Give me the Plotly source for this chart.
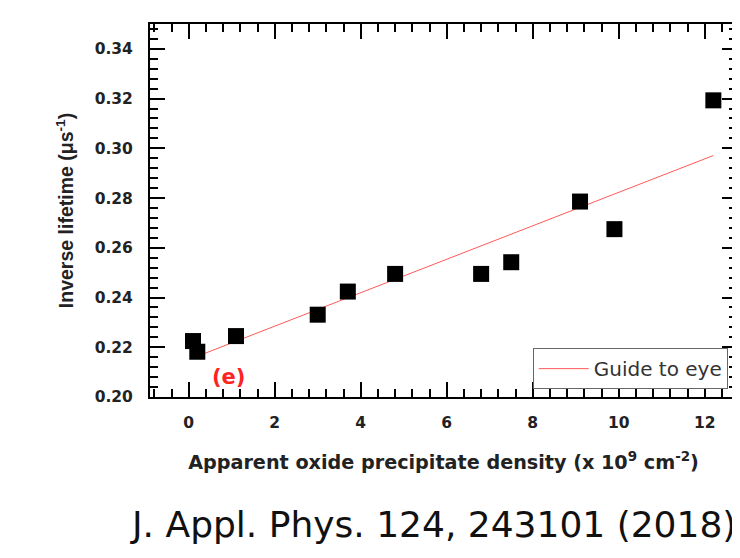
import plotly.graph_objects as go

# Data
density = [0.1, 0.2, 1.1, 3.0, 3.7, 4.8, 6.8, 7.5, 9.1, 9.9, 12.2]
inv_lifetime = [0.2225, 0.2182, 0.2245, 0.2331, 0.2424, 0.2495, 0.2495, 0.2542, 0.2786, 0.2675, 0.3193]

guide_x = [0.1, 12.2]
guide_y = [0.2157, 0.2971]

x_ticks = [0, 2, 4, 6, 8, 10, 12]
y_ticks = [0.20, 0.22, 0.24, 0.26, 0.28, 0.30, 0.32, 0.34]
y_tick_text = ["0.20", "0.22", "0.24", "0.26", "0.28", "0.30", "0.32", "0.34"]

BOLD = "DejaVu Sans"

fig = go.Figure()
fig.add_trace(go.Scatter(
    x=guide_x, y=guide_y, mode="lines",
    line=dict(color="#ff5a5a", width=1),
    name="Guide to eye", showlegend=True,
))
fig.add_trace(go.Scatter(
    x=density, y=inv_lifetime, mode="markers",
    marker=dict(symbol="square", size=16, color="black", line=dict(width=0)),
    showlegend=False,
))

axis_common = dict(
    showline=True, linecolor="black", linewidth=2, mirror="allticks",
    ticks="inside", ticklen=15, tickwidth=2, tickcolor="black",
    showgrid=False, zeroline=False, automargin=False,
)

fig.update_xaxes(
    range=[-0.9, 12.75],
    tickvals=x_ticks, ticktext=[str(v) for v in x_ticks],
    tickfont=dict(family=BOLD, size=15.5, color="#222", weight="bold"),
    minor=dict(ticks="inside", ticklen=8, tickwidth=2, tickcolor="black", dtick=0.4, tick0=0, showgrid=False),
    title=dict(text="Apparent oxide precipitate density (x 10<sup>9</sup> cm<sup>-2</sup>)",
               font=dict(family=BOLD, size=19.2, color="#222", weight="bold"), standoff=25),
    ticklabelstandoff=10,
    **axis_common,
)
fig.update_yaxes(
    range=[0.20, 0.35],
    tickvals=y_ticks, ticktext=y_tick_text,
    tickfont=dict(family=BOLD, size=15.5, color="#222", weight="bold"),
    minor=dict(ticks="inside", ticklen=8, tickwidth=2, tickcolor="black", dtick=0.004, tick0=0.2, showgrid=False),
    title=dict(text="Inverse lifetime (μs<sup>-1</sup>)",
               font=dict(family="Liberation Sans", size=19.5, color="#222", weight="bold"), standoff=16),
    ticklabelstandoff=12,
    **axis_common,
)

fig.add_annotation(
    x=0.93, y=0.208, xref="x", yref="y", text="<b>(e)</b>", showarrow=False,
    font=dict(family=BOLD, size=21, color="#ff2222"),
)
fig.add_annotation(
    x=-0.0374, y=-0.343, xref="paper", yref="paper", xanchor="left", yanchor="middle",
    text="J. Appl. Phys. 124, 243101 (2018)", showarrow=False,
    font=dict(family="DejaVu Sans", size=36, color="#111"),
)

# page body adds an 8px offset, so the figure is sized to fit inside the window
fig.update_layout(
    width=732, height=550,
    margin=dict(l=142, r=3, t=16, b=161),
    paper_bgcolor="white", plot_bgcolor="white",
    legend=dict(
        x=0.652, y=0.131, xanchor="left", yanchor="top",
        bordercolor="#666", borderwidth=1, bgcolor="white",
        font=dict(family="DejaVu Sans", size=20, color="#333"),
        itemwidth=50,
    ),
)

fig.write_html("out.html")
